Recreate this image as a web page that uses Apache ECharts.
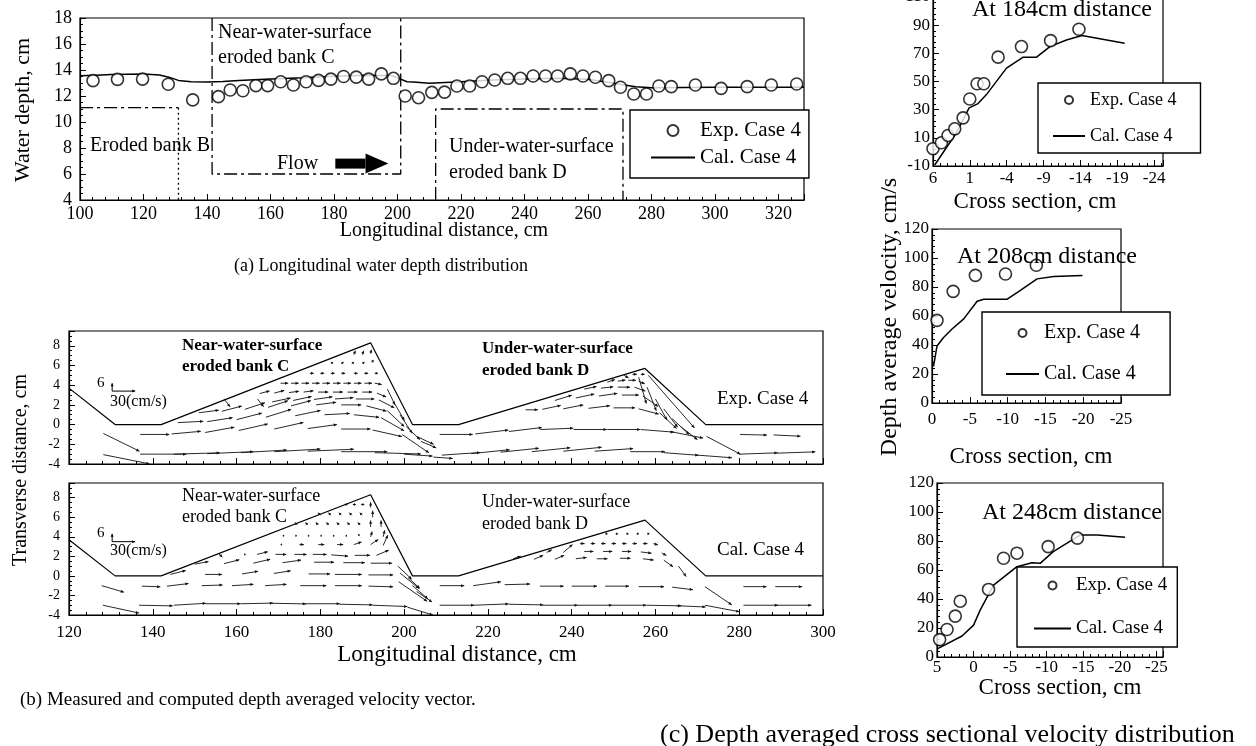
<!DOCTYPE html>
<html><head><meta charset="utf-8">
<script src="https://cdn.jsdelivr.net/npm/echarts@6/dist/echarts.min.js"></script>
<style>html,body{margin:0;padding:0;background:#fff}#c{width:1256px;height:746px}</style>
</head><body><div id="c"></div>
<script>
// ---------- Panel (a): longitudinal water depth ----------
const depthExpX = [104.1,111.8,119.7,127.8,135.5,143.6,147.3,151.3,155.4,159.1,163.2,167.2,171.2,175.1,179.0,183.0,187.0,190.9,194.9,198.7,202.4,206.6,210.8,214.8,218.7,222.7,226.6,230.6,234.7,238.7,242.7,246.6,250.4,254.4,258.4,262.3,266.5,270.2,274.4,278.4,282.3,286.2,293.8,301.9,310.1,317.7,325.7];
const depthExpY = [13.18,13.28,13.3,12.9,11.7,11.95,12.46,12.4,12.8,12.8,13.1,12.85,13.1,13.2,13.3,13.5,13.45,13.3,13.7,13.36,12.0,11.87,12.28,12.3,12.77,12.77,13.1,13.23,13.36,13.36,13.54,13.54,13.54,13.7,13.54,13.44,13.18,12.67,12.15,12.15,12.77,12.72,12.85,12.59,12.72,12.85,12.92];
const depthCalX = [100,105,110,115,120,125,128,131,135,140,145,150,160,170,180,190,198,201,203,205,210,220,230,240,250,260,265,270,275,280,290,300,310,320,328];
const depthCalY = [13.55,13.6,13.65,13.68,13.7,13.62,13.45,13.2,13.1,13.08,13.12,13.2,13.3,13.4,13.52,13.6,13.58,13.3,13.1,13.08,12.98,13.1,13.23,13.3,13.36,13.28,13.1,12.9,12.72,12.64,12.66,12.67,12.67,12.67,12.67];
const bankBTop = [[100,11.1],[131,11.1]];
const bankBSide = [[131,11.1],[131,4]];
const bankCBox = [[141.6,18],[141.6,6],[201,6],[201,18]];
const bankDBox = [[212,4],[212,11],[271,11],[271,4]];
const flowArrow = [[180.4,197.1,6.8]];

// ---------- Panel (b): velocity vectors [x, y, u(cm/s), v(cm/s)] ----------
const bankLineX = [120,131,142,192,202,213,257.5,272,300];
const bankLineY = [3.7,0,0,8.3,0,0,5.7,0,0];
const refVector = [30,6];
const expVectors = [
 [128.2,-0.9,47,-13.5],[128.2,-3.05,60,-7],
 [137,-3.0,60,0],[145,-3.0,60,1],[153,-2.95,60,1.5],[161,-2.85,60,2],[169,-2.75,60,2],[177,-2.7,60,1.5],[185,-2.75,60,0],[193,-2.85,60,-1],[200,-3.0,37,-1.5],[207,-3.3,25,-1],
 [137,-1.0,38,0],[144.5,-0.95,38,2],[152.5,-0.8,38,4],[160.5,-0.6,38,5],[169,-0.45,38,5],[177,-0.4,38,3],[185,-0.45,38,0],[192.5,-0.55,38,-5],[199.5,-1.0,35,-14],
 [146,0.2,33,1],[153,0.3,33,3],[160,0.5,33,5],[167,0.75,33,6],[174,0.9,33,4],[181,1.0,33,1],[188,1.0,33,-2],[194.5,0.7,30,-10],
 [151,1.2,26,2],[156.5,1.35,26,4],[162,1.55,26,5],[167.5,1.75,26,5],[173,1.9,26,4],[179,2.0,26,2],[185,2.0,26,0],[191,1.9,26,-4],[196,1.4,22,-12],
 [157,2.6,8,-6],[165,2.6,8,-6],[168.5,2.3,24,3],[173.5,2.45,24,3],[178.5,2.55,24,2],[183.5,2.6,24,1],[188.5,2.6,24,0],[194,2.5,20,-6],
 [165.5,3.15,13,2],[169,3.2,13,2],[172.5,3.25,13,1],[176,3.3,13,1],[179.5,3.3,13,0],[183,3.3,13,0],[186.5,3.3,13,0],[190,3.3,13,0],[193.5,3.2,12,-3],
 [170.5,4.2,10,0],[173,4.2,10,0],[175.5,4.2,10,0],[178,4.2,10,0],[180.5,4.2,10,0],[183,4.2,10,0],[185.5,4.2,10,0],[188,4.2,10,0],[190.5,4.2,10,0],[193,4.2,9,-1],
 [177.5,5.2,5,0],[180,5.2,5,0],[182.5,5.2,5,0],[185,5.2,5,0],[188,5.2,5,0],[190.5,5.2,5,0],[193,5.2,4,0],
 [182.5,6.2,3,1],[185,6.2,3,1],[187.5,6.2,3,1],[190,6.2,3,1],[192.3,6.3,2,2],
 [188,7.1,2,3],[190,7.1,2,3],[192,7.2,1,3],
 [196,3.6,10,-12],[197.5,2.3,14,-14],[199,1.0,16,-14],[200.5,-0.2,18,-10],[203,-1.2,22,-6],
 [204,-1.7,20,-5],[208.5,-1.0,43,0],[217,-0.95,43,3],[225,-0.7,43,3],[232.5,-0.5,43,1],[240.5,-0.5,43,0],[248.5,-0.5,43,0],[256.5,-0.5,43,-2],[263.5,-0.7,43,-5],[272.2,-1.2,44,-13.5],[280.2,-1.0,35,-0.5],[288.2,-1.05,35,-1],
 [209,-3.1,50,2],[216,-2.95,50,3],[223,-2.8,50,3],[230.5,-2.75,50,3],[238,-2.7,50,3],[245.5,-2.7,50,2],[254,-2.75,45,0],[262,-2.85,45,-2],[270,-3.1,45,-2],[280,-3.0,50,1],[289,-2.9,50,1],
 [229,1.5,16,0],[233,1.55,24,3],[238,1.6,26,3],[244,1.65,28,2],[250,1.7,28,0],[256,1.6,26,-4],[261,1.2,22,-12],
 [236,2.45,22,4],[241,2.7,24,3],[246.5,2.9,24,2],[252,3.0,22,0],[257,2.9,20,-8],
 [243,3.6,16,2],[247,3.7,16,1],[251,3.8,16,0],[255,3.8,14,-3],
 [248.5,4.3,10,2],[251,4.4,10,1],[253.5,4.5,10,0],[256,4.4,8,-2],
 [252.5,5.0,6,-2],[254.5,5.1,6,0],[256.5,5.1,5,0],
 [256,4.8,10,-20],[258,3.8,12,-18],[260,2.6,15,-16],[262,1.6,18,-14],[264,0.6,22,-12],[266,-0.2,22,-10],[258.3,5.0,60,-40]
];
const calVectors = [
 [127.8,-1.0,29,-5],[128.1,-3.0,47,-6],
 [136.7,-3.0,44,-0.5],[145,-3.0,42,1.5],[152.7,-2.85,45,0],[161,-2.85,42,0.5],[168.5,-2.8,44,-0.5],[176.4,-2.85,45,0],[184.6,-2.9,43,-0.5],[192.5,-3.0,45,-1],[200.8,-3.2,33,-6],
 [137.4,-1.05,24,-0.5],[143.4,-1.05,28,2],[151.7,-1.0,27,0.5],[158.9,-1.0,28,1],[166.8,-1.0,28,1],[175.2,-1.0,34,0],[183.5,-1.0,35,0],[191.5,-1.05,32,-0.5],[198.7,-0.6,37,-15],
 [144.2,0.15,20,3],[152.5,0.15,22,0],[161.3,0.2,21,2],[168.9,0.25,22,2],[177.2,0.2,28,0],[183.5,0.15,35,0],[191.5,0.1,32,0],[199,0.3,25,-12],
 [150,1.2,18,2],[157,1.25,20,3],[164,1.3,22,3],[171,1.35,24,2],[178.5,1.4,26,0],[185.5,1.35,28,0],[192,1.3,28,0],[198.5,1.0,18,-10],
 [155.7,2.3,5,-3],[161.8,2.2,2,0],[164.9,2.2,14,2],[169.3,2.2,14,0],[173.8,2.2,16,0],[178.2,2.2,18,0],[182.6,2.15,22,-1],[188.2,2.1,20,0],[193.4,2.1,16,4],
 [170.5,3.2,2,0],[175,3.2,6,0],[179.5,3.2,8,0],[184,3.2,8,0],[188,3.2,10,2],[192,3.2,10,4],[195,3.1,6,8],
 [171,4.1,2,0],[174,4.1,2,0],[177,4.1,2,0],[180,4.1,2,0],[183,4.1,2,0],[186,4.1,2,0],[189,4.1,2,1],[192,4.0,2,4],[195,4.0,2,5],
 [174.5,5.2,-3,2],[177,5.2,-3,2],[179.5,5.2,-3,2],[182,5.2,-3,2],[184.5,5.2,-3,2],[187,5.2,-3,2],[189.5,5.2,-3,2],[192,5.0,0,5],[194.5,5.0,0,5],
 [180,6.2,-3,2],[182.5,6.2,-3,2],[185,6.2,-3,2],[187.5,6.2,-3,2],[190,6.2,-3,2],[192.5,6.0,0,5],
 [186.5,7.3,-4,0],[188.5,7.3,-4,0],[190.5,7.3,-4,0],[192,7.0,0,4],
 [201,-0.2,15,-8],[202,-1.0,20,-10],[203,-1.6,20,-8],
 [208.5,-3.0,45,0],[216.7,-3.0,45,1],[225,-2.9,45,-0.5],[233.2,-3.0,45,0],[241.4,-3.0,45,0],[249.6,-3.0,45,0],[257.9,-3.0,45,-0.5],[265,-3.05,38,-1],[271.8,-3.0,45,-5],[281,-3.0,45,0],[289,-3.0,45,0],
 [208.5,-1.0,32,0],[216.5,-1.0,36,3],[224,-0.9,33,0.5],[232.4,-1.05,31,0],[240,-1.05,33,0],[248,-1.05,31,0],[256,-1.1,33,0],[264,-1.15,27,-2],[271.8,-1.1,35,-14],[281,-1.1,30,0],[288.6,-1.1,35,0],
 [226,1.75,10,2],[231,1.7,12,3],[236,1.7,12,3],[241,1.75,14,1],[246,1.75,14,0],[251.5,1.8,14,0],[257,1.75,14,-1],[262,1.6,12,-5],[265.5,1.0,10,-8],
 [234,2.4,7,2],[238,2.4,12,6],[243,2.5,12,0],[247.5,2.5,12,0],[252,2.5,12,0],[256.5,2.45,14,-1],[261.5,2.35,6,-2],
 [242,3.3,6,0],[244.5,3.3,6,0],[247,3.3,6,0],[249.5,3.3,6,0],[252,3.3,6,0],[254.5,3.3,6,0],[257,3.3,6,0],[259.5,3.3,6,-1],
 [248,4.3,3,0],[250.5,4.3,3,0],[253,4.3,3,0],[255.5,4.3,3,0],[258,4.3,3,0]
];

// ---------- Panel (c): cross-sectional velocity ----------
const sec184ExpX = [6,4.86,3.96,3.05,1.92,1.01,0.02,-0.89,-2.83,-6.0,-9.95,-13.8];
const sec184ExpY = [2.3,6.5,11.7,16.4,24.2,37.6,48.4,48.4,67.3,74.8,79.0,87.1];
const sec184CalX = [5.77,2.82,1.1,-0.11,-1.25,-3.97,-6.23,-8.05,-9.86,-12.1,-14.2,-20.0];
const sec184CalY = [-9.3,13.6,31.3,34.3,40.7,59.5,67.3,67.3,74.8,79.5,82.6,77.2];
const sec208ExpX = [-0.66,-2.8,-5.74,-9.72,-13.8];
const sec208ExpY = [57,77,88,89,95];
const sec208CalX = [-0.2,-0.66,-1.5,-2.65,-4.2,-5.97,-6.85,-9.95,-11.3,-13.9,-16.1,-19.9];
const sec208CalY = [25.3,39.3,45,51,58,70.2,71.6,71.6,76.3,85.6,87.3,88];
const sec248ExpX = [4.64,3.63,2.5,1.82,-2.05,-4.1,-5.93,-10.2,-14.2];
const sec248ExpY = [12,19,28.2,38.5,46.6,68.1,71.6,76.1,82];
const sec248CalX = [4.9,1.58,0.0,-0.9,-2.73,-5.93,-7.98,-9.1,-10.9,-14.6,-16.9,-20.7];
const sec248CalY = [5.8,14.5,22,32.3,49.6,62.3,65,64.6,72.7,84.2,84.2,82.6];

// ---------- build ----------
const F = 'Liberation Serif';
const SX = 5.5 / 30, SY = 0.8 / 6;   // vector scale: cm of plot per cm/s
const zip = (a, b) => a.map((v, i) => [v, b[i]]);
const r1 = v => String(Math.round(v * 10) / 10 + 0);

function xAx(grid, min, max, interval, label, minor) {
  return {type:'value', gridIndex:grid, min, max, interval,
    splitLine:{show:false},
    axisLine:{show:true, onZero:false, lineStyle:{color:'#000', width:1.2}},
    axisTick:{show:true, inside:true, length:6, lineStyle:{color:'#000'}},
    minorTick:{show:true, splitNumber:minor, length:3, lineStyle:{color:'#000'}},
    axisLabel:Object.assign({color:'#000', fontFamily:F}, label)};
}
const xAxis = [
  xAx(0,100,328,20,{fontSize:18, margin:5, showMaxLabel:false},5),
  xAx(1,120,300,20,{show:false},5),
  xAx(2,120,300,20,{fontSize:17, margin:9},5),
  xAx(3,0,31.2,5,{fontSize:17, margin:4, showMaxLabel:false, formatter:v=>r1(6-v)},5),
  xAx(4,0,25,5,{fontSize:17, margin:8, formatter:v=>r1(0-v)},5),
  xAx(5,0,30.9,5,{fontSize:17, margin:2, showMaxLabel:false, formatter:v=>r1(5-v)},5)
];
const yAxis = [
  xAx(0,4,18,2,{fontSize:18, margin:8},4),
  xAx(1,-4,9.5,2,{fontSize:14, margin:9, showMaxLabel:false},4),
  xAx(2,-4,9.5,2,{fontSize:14, margin:9, showMaxLabel:false},4),
  xAx(3,0,120,20,{fontSize:17, margin:3, formatter:v=>r1(v-10)},5),
  xAx(4,0,120,20,{fontSize:17, margin:3},5),
  xAx(5,0,120,20,{fontSize:17, margin:3},5)
];

function vectorItem(params, api) {
  const x = api.value(0), y = api.value(1), u = api.value(2), v = api.value(3);
  const p0 = api.coord([x, y]);
  const p1 = api.coord([x + u * SX, y + v * SY]);
  const dx = p1[0] - p0[0], dy = p1[1] - p0[1];
  const len = Math.hypot(dx, dy) || 1;
  const ux = dx / len, uy = dy / len;
  const h = Math.min(3.2, len * 0.7), w = 1.5;
  const b = [p1[0] - ux * h, p1[1] - uy * h];
  return {type:'group', children:[
    {type:'line', shape:{x1:p0[0], y1:p0[1], x2:p1[0], y2:p1[1]}, style:{stroke:'#111', lineWidth:0.9}},
    {type:'polygon', shape:{points:[[p1[0],p1[1]],[b[0]-uy*w,b[1]+ux*w],[b[0]+uy*w,b[1]-ux*w]]}, style:{fill:'#111'}}
  ]};
}
function refItem(params, api) {
  const x = api.value(0), y = api.value(1), u = api.value(2), v = api.value(3);
  const p0 = api.coord([x, y]);
  const ph = api.coord([x + u * SX, y]);
  const pv = api.coord([x, y + v * SY]);
  return {type:'group', children:[
    {type:'line', shape:{x1:p0[0], y1:p0[1], x2:ph[0], y2:ph[1]}, style:{stroke:'#000', lineWidth:1}},
    {type:'line', shape:{x1:p0[0], y1:p0[1], x2:pv[0], y2:pv[1]}, style:{stroke:'#000', lineWidth:1}},
    {type:'polygon', shape:{points:[[ph[0],ph[1]],[ph[0]-3,ph[1]-1.5],[ph[0]-3,ph[1]+1.5]]}, style:{fill:'#000'}},
    {type:'polygon', shape:{points:[[pv[0],pv[1]],[pv[0]-1.5,pv[1]+3],[pv[0]+1.5,pv[1]+3]]}, style:{fill:'#000'}}
  ]};
}
function flowItem(params, api) {
  const p0 = api.coord([api.value(0), api.value(2)]);
  const p1 = api.coord([api.value(1), api.value(2)]);
  const s = p0[0] + (p1[0] - p0[0]) * 0.57;
  return {type:'group', children:[
    {type:'rect', shape:{x:p0[0], y:p0[1]-5, width:s-p0[0], height:10}, style:{fill:'#000'}},
    {type:'polygon', shape:{points:[[s,p0[1]-10],[p1[0],p0[1]],[s,p0[1]+10]]}, style:{fill:'#000'}}
  ]};
}

const dashDot = [13,4,3,4];
const boxLine = (data, type) => ({type:'line', xAxisIndex:0, yAxisIndex:0, data, symbol:'none', silent:true,
  lineStyle:{color:'#000', width:1.3, type}, z:1});
const expScatter = (xi, data, size) => ({name:'Exp. Case 4', type:'scatter', xAxisIndex:xi, yAxisIndex:xi, data,
  symbol:'circle', symbolSize:size, itemStyle:{color:'#fff', borderColor:'#000', borderWidth:1.6}, z:5});
const calLine = (xi, data) => ({name:'Cal. Case 4', type:'line', xAxisIndex:xi, yAxisIndex:xi, data,
  symbol:'none', itemStyle:{color:'rgba(0,0,0,0)', borderWidth:0}, lineStyle:{color:'#000', width:1.5}, z:4});
const vecSeries = (xi, data) => ({type:'custom', xAxisIndex:xi, yAxisIndex:xi, data, renderItem:vectorItem,
  encode:{x:0, y:1}, silent:true, clip:true, z:3});
const bankSeries = xi => ({type:'line', xAxisIndex:xi, yAxisIndex:xi, data:zip(bankLineX, bankLineY),
  symbol:'none', silent:true, lineStyle:{color:'#000', width:1.2}, z:2});

const series = [
  boxLine(bankBTop, dashDot), boxLine(bankBSide, [2,3]), boxLine(bankCBox, dashDot), boxLine(bankDBox, dashDot),
  {type:'custom', xAxisIndex:0, yAxisIndex:0, data:flowArrow, renderItem:flowItem, encode:{x:[0,1], y:2}, silent:true},
  calLine(0, zip(depthCalX, depthCalY)),
  expScatter(0, zip(depthExpX, depthExpY), 12),
  bankSeries(1), bankSeries(2),
  vecSeries(1, expVectors), vecSeries(2, calVectors),
  {type:'custom', xAxisIndex:1, yAxisIndex:1, data:[[130.3,3.4,refVector[0],refVector[1]]], renderItem:refItem, encode:{x:0,y:1}, silent:true},
  {type:'custom', xAxisIndex:2, yAxisIndex:2, data:[[130.3,3.5,refVector[0],refVector[1]]], renderItem:refItem, encode:{x:0,y:1}, silent:true},
  calLine(3, sec184CalX.map((x,i)=>[6-x, sec184CalY[i]+10])),
  expScatter(3, sec184ExpX.map((x,i)=>[6-x, sec184ExpY[i]+10]), 12),
  calLine(4, sec208CalX.map((x,i)=>[0-x, sec208CalY[i]])),
  expScatter(4, sec208ExpX.map((x,i)=>[0-x, sec208ExpY[i]]), 12),
  calLine(5, sec248CalX.map((x,i)=>[5-x, sec248CalY[i]])),
  expScatter(5, sec248ExpX.map((x,i)=>[5-x, sec248ExpY[i]]), 12)
];

const lg = (left, top, fs, iw, ih, gap, pad) => ({data:['Exp. Case 4','Cal. Case 4'], left, top, orient:'vertical',
  itemWidth:iw, itemHeight:ih, itemGap:gap, padding:pad, borderColor:'#000', borderWidth:1.4, backgroundColor:'#fff',
  selectedMode:false, textStyle:{fontFamily:F, fontSize:fs, color:'#000'}, z:10});

function T(text, x, y, size, o) {
  o = o || {};
  return {type:'text', x, y, rotation:o.rot || 0, z:20, silent:true,
    style:{text, fill:'#000', font:(o.bold ? 'bold ' : '') + size + 'px "Liberation Serif"',
      align:o.align || 'left', verticalAlign:'middle', textAlign:o.align || 'left', textVerticalAlign:'middle'}};
}
const R = Math.PI / 2;
const graphic = [
  // panel (a)
  T('Near-water-surface', 218, 33, 20), T('eroded bank C', 218, 58, 20),
  T('Eroded bank B', 90, 146, 20),
  T('Under-water-surface', 449, 147, 20), T('eroded bank D', 449, 173, 20),
  T('Flow', 277, 164, 20),
  T('Water depth, cm', 23, 110, 22, {rot:R, align:'center'}),
  T('Longitudinal distance, cm', 444, 231, 20, {align:'center'}),
  T('(a) Longitudinal water depth distribution', 381, 266, 18, {align:'center'}),
  // panel (b)
  T('Near-water-surface', 182, 346, 17, {bold:true}), T('eroded bank C', 182, 367, 17, {bold:true}),
  T('Under-water-surface', 482, 349, 17, {bold:true}), T('eroded bank D', 482, 371, 17, {bold:true}),
  T('Exp. Case 4', 717, 399, 19),
  T('6', 97, 383, 15), T('30(cm/s)', 110, 402, 16),
  T('Near-water-surface', 182, 496, 18), T('eroded bank C', 182, 517, 18),
  T('Under-water-surface', 482, 502, 18), T('eroded bank D', 482, 524, 18),
  T('Cal. Case 4', 717, 550, 19),
  T('6', 97, 533, 15), T('30(cm/s)', 110, 551, 16),
  T('Transverse distance, cm', 21, 470, 20, {rot:R, align:'center'}),
  T('Longitudinal distance, cm', 457, 655, 23, {align:'center'}),
  T('(b) Measured and computed depth averaged velocity vector.', 20, 700, 19),
  // panel (c)
  T('At 184cm distance', 972, 10, 24), T('At 208cm distance', 957, 257, 24), T('At 248cm distance', 982, 513, 24),
  T('Cross section, cm', 1035, 202, 23, {align:'center'}),
  T('Cross section, cm', 1031, 457, 23, {align:'center'}),
  T('Cross section, cm', 1060, 688, 23, {align:'center'}),
  T('Depth average velocity, cm/s', 890, 317, 24, {rot:R, align:'center'}),
  T('(c) Depth averaged cross sectional velocity distribution', 660, 735, 26)
];

const gridStyle = {show:true, borderColor:'#000', borderWidth:1.2, backgroundColor:'transparent', containLabel:false, outerBoundsMode:'none'};
const option = {
  animation:false,
  backgroundColor:'#fff',
  textStyle:{fontFamily:F},
  grid:[
    Object.assign({left:80, top:18, width:724, height:182}, gridStyle),
    Object.assign({left:69, top:331, width:754, height:133}, gridStyle),
    Object.assign({left:69, top:483, width:754, height:132}, gridStyle),
    Object.assign({left:933, top:-3, width:230, height:169}, gridStyle),
    Object.assign({left:932, top:229, width:189, height:174}, gridStyle),
    Object.assign({left:937, top:483, width:226, height:174}, gridStyle)
  ],
  xAxis, yAxis, series, graphic,
  legend:[
    lg(630, 110, 21, 44, 11, 6, [10,8,10,20]),
    lg(1038, 83, 18, 32, 8, 18, [8,24,8,14]),
    lg(982, 312, 20, 33, 8, 21, [11,30,11,23]),
    lg(1017, 567, 19, 37, 8, 24, [9,10,9,16])
  ]
};
const chart = echarts.init(document.getElementById('c'), null, {width:1256, height:746});
chart.setOption(option);
</script>
</body></html>
